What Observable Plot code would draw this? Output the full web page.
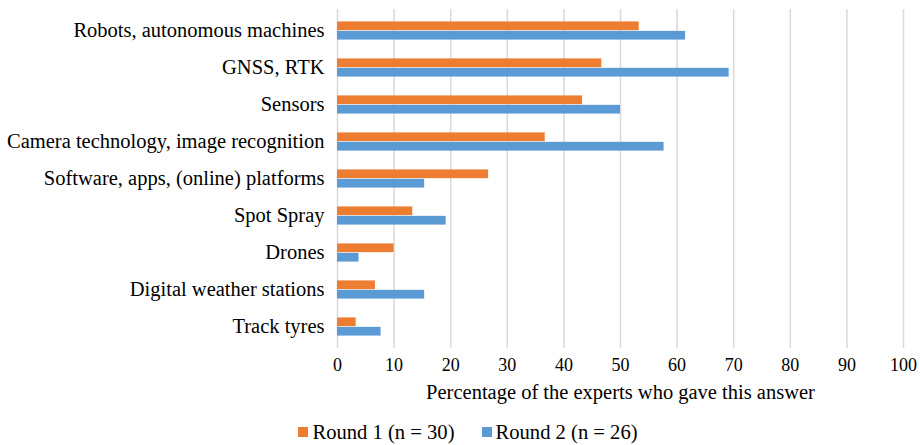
<!DOCTYPE html>
<html><head><meta charset="utf-8">
<script src="https://cdn.jsdelivr.net/npm/d3@7"></script>
<script src="https://cdn.jsdelivr.net/npm/@observablehq/plot@0.6"></script>
<style>
body{margin:0;background:#fff;font-family:"Times New Roman","Liberation Serif",serif;}
#chart svg{display:block;}
#chart svg, #chart svg text{font-family:"Times New Roman","Liberation Serif",serif !important;}
#legend{display:flex;justify-content:center;align-items:center;gap:27px;height:44px;font-size:20.6px;color:#000;padding-left:16px;box-sizing:border-box;padding-bottom:0px;}
#legend .item{display:flex;align-items:center;gap:4px;}
#legend .sw{width:10px;height:10px;display:inline-block;}
</style></head><body>
<div id="chart"></div>
<div id="legend"></div>
<script>
const categories = ["Robots, autonomous machines","GNSS, RTK","Sensors","Camera technology, image recognition","Software, apps, (online) platforms","Spot Spray","Drones","Digital weather stations","Track tyres"];
const round1 = [53.3, 46.7, 43.3, 36.7, 26.7, 13.3, 10.0, 6.7, 3.3];
const round2 = [61.5, 69.2, 50.0, 57.7, 15.4, 19.2, 3.8, 15.4, 7.7];
const seriesNames = ["Round 1 (n = 30)", "Round 2 (n = 26)"];
const seriesColors = ["#ED7D31", "#5B9BD5"];
const xTicks = [0, 10, 20, 30, 40, 50, 60, 70, 80, 90, 100];
const xLabel = "Percentage of the experts who gave this answer";

const W = 920, H = 410, mTop = 9, mBottom = 62, mLeft = 337, mRight = 17;
const step = (H - mTop - mBottom) / categories.length;

const d1 = categories.map((c, i) => ({category: c, value: round1[i]}));
const d2 = categories.map((c, i) => ({category: c, value: round2[i]}));

const chart = Plot.plot({
  width: W, height: H,
  marginTop: mTop, marginBottom: mBottom, marginLeft: mLeft, marginRight: mRight,
  style: {fontSize: "20.5px", color: "#000", background: "#fff"},
  x: {domain: [0, 100]},
  y: {domain: categories, padding: 0},
  marks: [
    Plot.gridX(xTicks, {stroke: "#d9d9d9", strokeOpacity: 1, strokeWidth: 1.5}),
    Plot.barX(d1, {x: "value", y: "category", fill: seriesColors[0], insetTop: step / 4, insetBottom: step / 2}),
    Plot.barX(d2, {x: "value", y: "category", fill: seriesColors[1], insetTop: step / 2, insetBottom: step / 4}),
    Plot.axisX({ticks: xTicks, tickSize: 0, tickPadding: 10, tickFormat: d => String(d), fontSize: 18, label: null}),
    Plot.axisX({ticks: [], tickSize: 0, label: xLabel, labelAnchor: "center", labelArrow: "none", labelOffset: 50, fontSize: 20.5}),
    Plot.axisY({tickSize: 0, tickPadding: 13, label: null, fontSize: 20.5, dy: -1})
  ]
});
document.getElementById("chart").appendChild(chart);

const legend = document.getElementById("legend");
seriesNames.forEach((n, i) => {
  const it = document.createElement("span"); it.className = "item";
  const sw = document.createElement("span"); sw.className = "sw"; sw.style.background = seriesColors[i];
  const t = document.createElement("span"); t.textContent = n;
  it.appendChild(sw); it.appendChild(t); legend.appendChild(it);
});
</script>
</body></html>
